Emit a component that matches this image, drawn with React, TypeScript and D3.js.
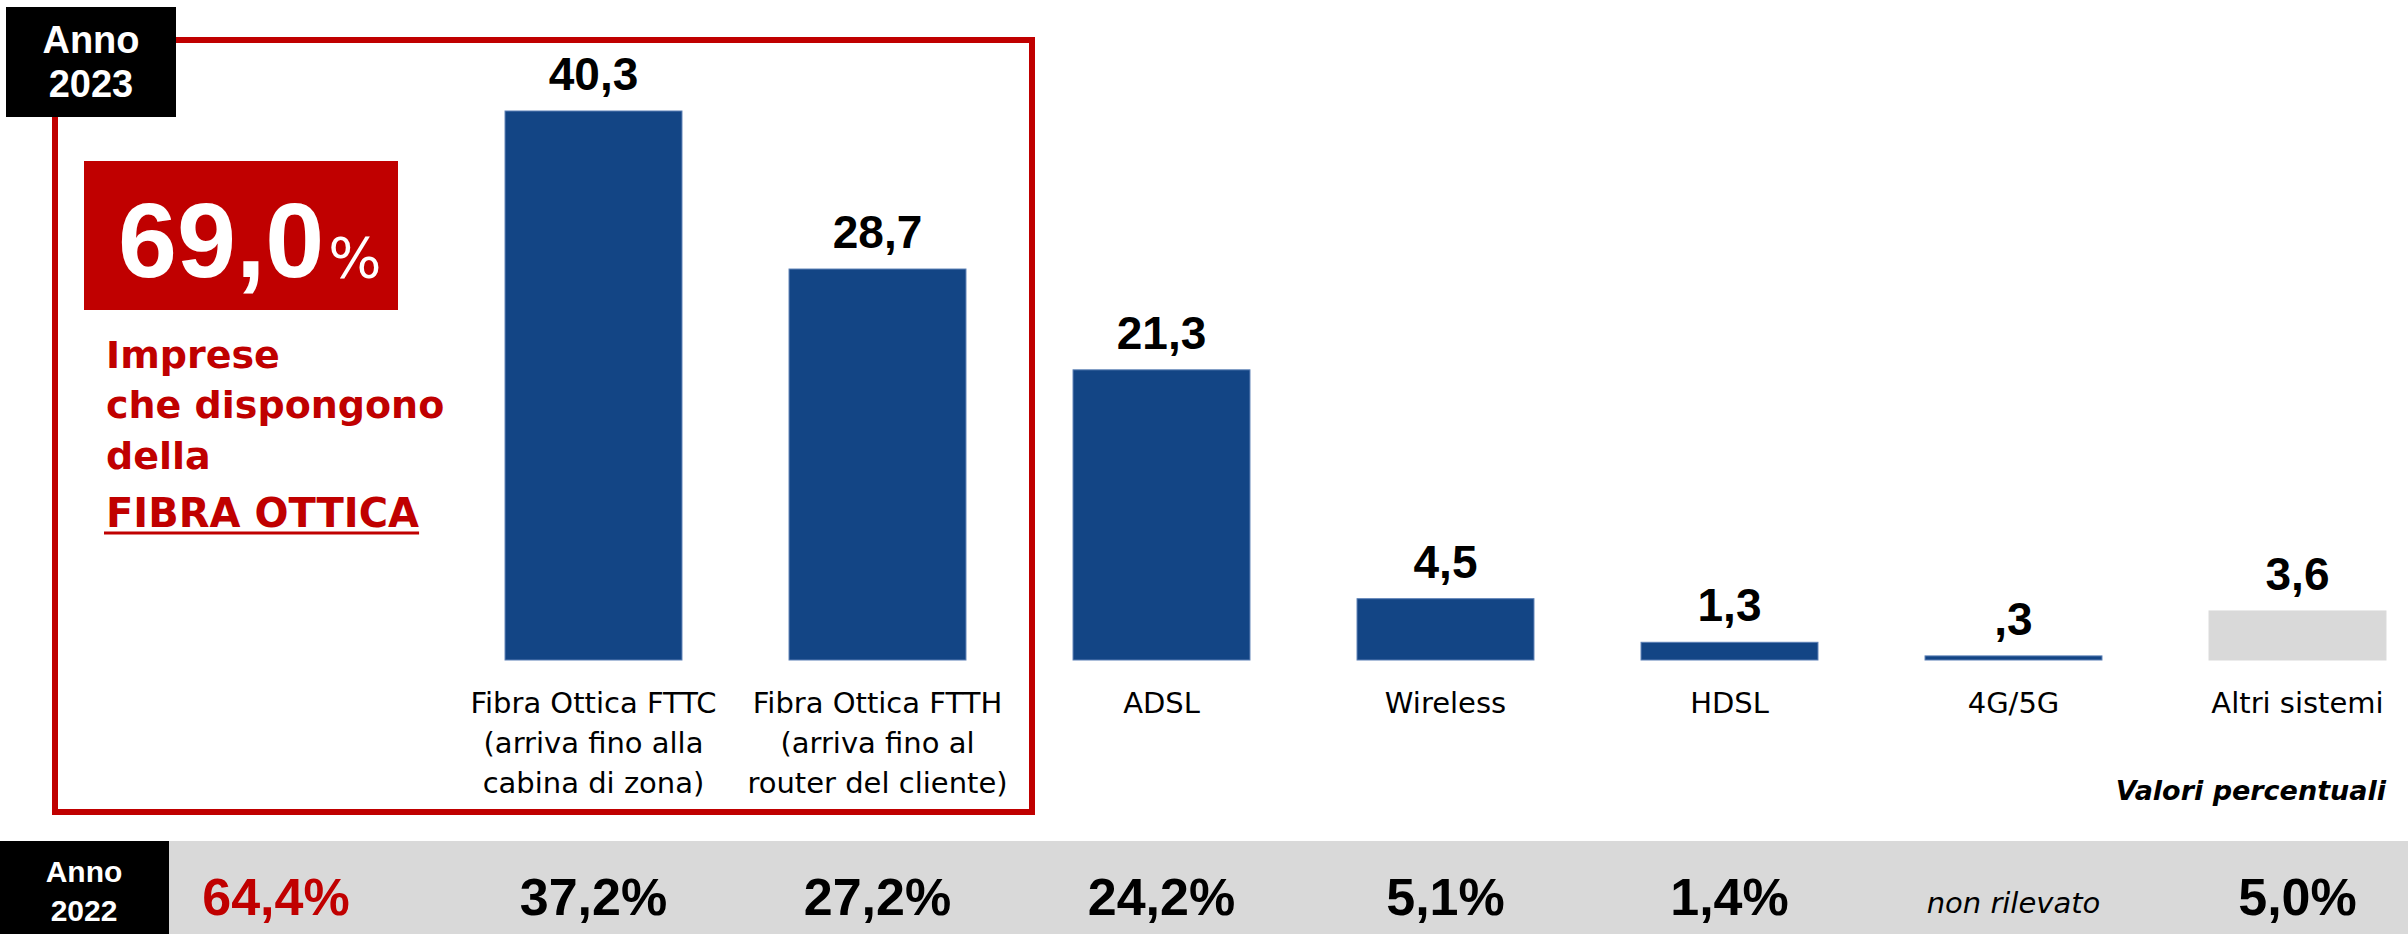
import * as d3 from "d3";
import { useEffect, useRef } from "react";

const W = 2408;
const H = 934;

const categories = ["FTTC", "FTTH", "ADSL", "Wireless", "HDSL", "4G/5G", "Altri"];
const categoryLines = [
  ["Fibra Ottica FTTC", "(arriva fino alla", "cabina di zona)"],
  ["Fibra Ottica FTTH", "(arriva fino al", "router del cliente)"],
  ["ADSL"],
  ["Wireless"],
  ["HDSL"],
  ["4G/5G"],
  ["Altri sistemi"],
];
const values2023 = [40.3, 28.7, 21.3, 4.5, 1.3, 0.3, 3.6];
const values2022 = [37.2, 27.2, 24.2, 5.1, 1.4, null, 5.0];
const fibraTotal2023 = 69.0;
const fibraTotal2022 = 64.4;
const fibraNote = ["Imprese", "che dispongono", "della"];

const BLUE = "#134585";
const RED = "#C00000";
const GREY = "#D9D9D9";
const SANS = "'Liberation Sans', Arial, sans-serif";
const GOTHIC = "'DejaVu Sans', sans-serif";

// italian decimals, excel style (0,3 -> ,3)
const fmt = (v) => d3.format(".1f")(v).replace(".", ",").replace(/^0,/, ",");

const App = () => {
  const svgRef = useRef(null);

  useEffect(() => {
    const svg = d3.select(svgRef.current);
    svg.selectAll("*").remove();

    const x = d3
      .scaleBand()
      .domain(categories)
      .range([451.5, 2439.5])
      .paddingInner(0.377)
      .paddingOuter(0.1885);
    const y = d3
      .scaleLinear()
      .domain([0, d3.max(values2023)])
      .range([660, 111]);

    // red frame around the fibre bars
    svg
      .append("rect")
      .attr("x", 55)
      .attr("y", 40)
      .attr("width", 977)
      .attr("height", 772)
      .attr("fill", "none")
      .attr("stroke", RED)
      .attr("stroke-width", 6);

    // Anno 2023 tag
    const tag = svg.append("g");
    tag.append("rect").attr("x", 6).attr("y", 7).attr("width", 170).attr("height", 110).attr("fill", "#000");
    tag
      .selectAll("text")
      .data(["Anno", "2023"])
      .join("text")
      .attr("x", 91)
      .attr("y", (d, i) => 53 + i * 44)
      .attr("text-anchor", "middle")
      .attr("fill", "#fff")
      .attr("font-family", SANS)
      .attr("font-weight", "bold")
      .attr("font-size", 38)
      .text((d) => d);

    // 69,0% box
    svg.append("rect").attr("x", 84).attr("y", 161).attr("width", 314).attr("height", 149).attr("fill", RED);
    const big = svg
      .append("text")
      .attr("x", 118)
      .attr("y", 277)
      .attr("fill", "#fff")
      .attr("font-family", SANS)
      .attr("font-weight", "bold")
      .attr("font-size", 106);
    big.append("tspan").text(fmt(fibraTotal2023));
    big
      .append("tspan")
      .attr("dx", 4)
      .attr("font-family", GOTHIC)
      .attr("font-weight", "normal")
      .attr("font-size", 56)
      .text("%");

    svg
      .append("g")
      .selectAll("text")
      .data(fibraNote)
      .join("text")
      .attr("x", 106)
      .attr("y", (d, i) => [368, 418, 469][i])
      .attr("fill", RED)
      .attr("font-family", GOTHIC)
      .attr("font-weight", "bold")
      .attr("font-size", 38)
      .text((d) => d);

    const fibra = svg
      .append("text")
      .attr("x", 106)
      .attr("y", 527)
      .attr("fill", RED)
      .attr("font-family", GOTHIC)
      .attr("font-weight", "bold")
      .attr("font-size", 40)
      .text("FIBRA OTTICA");
    const len = fibra.node().getComputedTextLength();
    svg
      .append("line")
      .attr("x1", 104)
      .attr("x2", 106 + len)
      .attr("y1", 533)
      .attr("y2", 533)
      .attr("stroke", RED)
      .attr("stroke-width", 3);

    // bars
    const bars = svg
      .append("g")
      .selectAll("g")
      .data(categories.map((c, i) => ({ c, v: values2023[i], lines: categoryLines[i], i })))
      .join("g");

    bars
      .append("rect")
      .attr("x", (d) => x(d.c))
      .attr("y", (d) => y(d.v))
      .attr("width", x.bandwidth())
      .attr("height", (d) => y(0) - y(d.v))
      .attr("fill", (d) => (d.i === categories.length - 1 ? GREY : BLUE))
      .attr("stroke", (d) => (d.i === categories.length - 1 ? GREY : "#5a7fb5"))
      .attr("stroke-width", 1);

    bars
      .append("text")
      .attr("x", (d) => x(d.c) + x.bandwidth() / 2)
      .attr("y", (d) => y(d.v) - 21)
      .attr("text-anchor", "middle")
      .attr("font-family", SANS)
      .attr("font-weight", "bold")
      .attr("font-size", 46)
      .attr("fill", "#000")
      .text((d) => fmt(d.v));

    bars
      .append("g")
      .selectAll("text")
      .data((d) => d.lines.map((t, k) => ({ t, k, cx: x(d.c) + x.bandwidth() / 2 })))
      .join("text")
      .attr("x", (d) => d.cx)
      .attr("y", (d) => 713 + d.k * 40)
      .attr("text-anchor", "middle")
      .attr("font-family", GOTHIC)
      .attr("font-size", 29)
      .attr("fill", "#000")
      .text((d) => d.t);

    svg
      .append("text")
      .attr("x", 2386)
      .attr("y", 800)
      .attr("text-anchor", "end")
      .attr("font-family", GOTHIC)
      .attr("font-weight", "bold")
      .attr("font-style", "italic")
      .attr("font-size", 27)
      .attr("fill", "#000")
      .text("Valori percentuali");

    // 2022 strip
    svg.append("rect").attr("x", 169).attr("y", 841).attr("width", W - 169).attr("height", H - 841).attr("fill", GREY);
    svg.append("rect").attr("x", 0).attr("y", 841).attr("width", 169).attr("height", H - 841).attr("fill", "#000");
    svg
      .append("g")
      .selectAll("text")
      .data(["Anno", "2022"])
      .join("text")
      .attr("x", 84)
      .attr("y", (d, i) => 882 + i * 39)
      .attr("text-anchor", "middle")
      .attr("fill", "#fff")
      .attr("font-family", SANS)
      .attr("font-weight", "bold")
      .attr("font-size", 30)
      .text((d) => d);

    svg
      .append("text")
      .attr("x", 276)
      .attr("y", 915)
      .attr("text-anchor", "middle")
      .attr("fill", RED)
      .attr("font-family", SANS)
      .attr("font-weight", "bold")
      .attr("font-size", 52)
      .text(fmt(fibraTotal2022) + "%");

    svg
      .append("g")
      .selectAll("text")
      .data(categories.map((c, i) => ({ c, v: values2022[i] })))
      .join("text")
      .attr("x", (d) => x(d.c) + x.bandwidth() / 2)
      .attr("y", (d) => (d.v == null ? 913 : 915))
      .attr("text-anchor", "middle")
      .attr("fill", "#000")
      .attr("font-family", (d) => (d.v == null ? GOTHIC : SANS))
      .attr("font-weight", (d) => (d.v == null ? "normal" : "bold"))
      .attr("font-style", (d) => (d.v == null ? "italic" : "normal"))
      .attr("font-size", (d) => (d.v == null ? 29 : 52))
      .text((d) => (d.v == null ? "non rilevato" : fmt(d.v) + "%"));
  }, []);

  return (
    <svg
      ref={svgRef}
      width={W}
      height={H}
      style={{ position: "absolute", left: 0, top: 0, background: "#fff" }}
    />
  );
};

export default App;
